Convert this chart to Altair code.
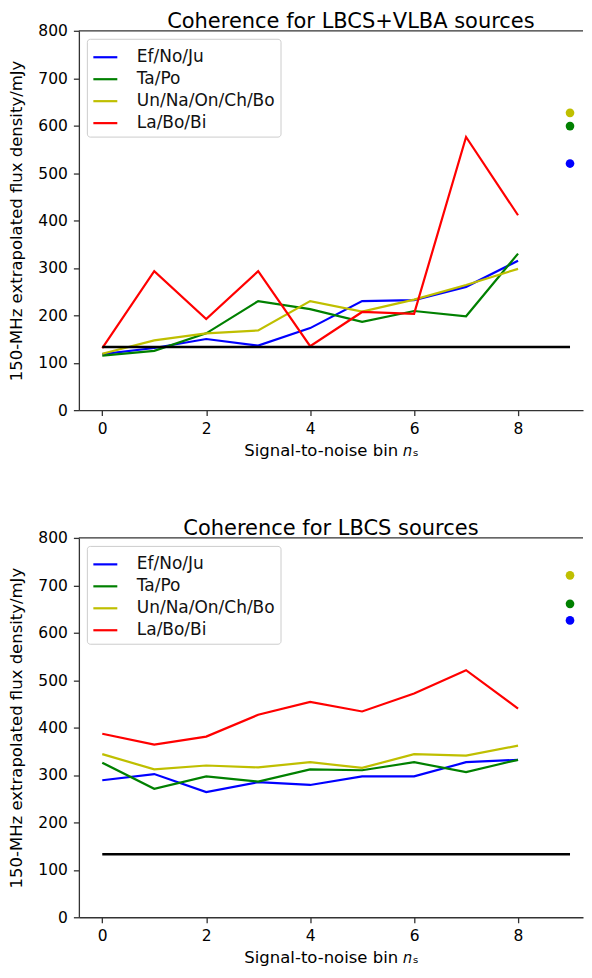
import altair as alt
import pandas as pd

bins = [0, 1, 2, 3, 4, 5, 6, 7, 8]
series = ["Ef/No/Ju", "Ta/Po", "Un/Na/On/Ch/Bo", "La/Bo/Bi"]
colors = ["#0000ff", "#008000", "#bfbf00", "#ff0000"]

# Panel 1: LBCS+VLBA
top_blue = [118, 131, 150, 136, 173, 230, 232, 260, 315]
top_green = [115, 125, 162, 230, 213, 186, 209, 198, 330]
top_yellow = [119, 147, 162, 168, 230, 208, 233, 264, 298]
top_red = [131, 293, 192, 293, 135, 207, 203, 576, 411]
top_dots = [520, 599, 627]          # blue, green, yellow at x = 9
top_thr = 133

# Panel 2: LBCS
bot_blue = [289, 302, 264, 285, 279, 297, 297, 327, 332]
bot_green = [326, 271, 297, 286, 312, 310, 327, 306, 332]
bot_yellow = [344, 312, 320, 316, 327, 315, 344, 341, 362]
bot_red = [387, 364, 381, 427, 454, 434, 472, 521, 440]
bot_dots = [626, 661, 721]
bot_thr = 133

dot_x = 9
thr_x = [0, 9]
x_ticks = [0, 2, 4, 6, 8]
y_ticks = [0, 100, 200, 300, 400, 500, 600, 700, 800]
y_max = 800

FONT = "DejaVu Sans"
Y_TITLE = "150-MHz extrapolated flux density/mJy"
W, H = 505, 380
SPINE = "#333333"


def panel(title, vals, dots, thr, title_dx):
    rows = []
    for name, v in zip(series, vals):
        for b, f in zip(bins, v):
            rows.append({"bin": b, "flux": f, "series": name})
    df = pd.DataFrame(rows)
    dots_df = pd.DataFrame({"bin": [dot_x] * 3, "flux": dots, "series": series[:3]})
    thr_df = pd.DataFrame({"x0": [thr_x[0]], "x1": [thr_x[1]], "flux": [thr]})

    xs = alt.Scale(domain=[-0.45, 9.25], nice=False, zero=False)
    ys = alt.Scale(domain=[0, y_max], nice=False, zero=True)
    cscale = alt.Scale(domain=series, range=colors)
    yaxis = alt.Axis(values=y_ticks, title=Y_TITLE)

    lines = alt.Chart(df).mark_line(strokeWidth=2.2).encode(
        x=alt.X("bin:Q", scale=xs,
                axis=alt.Axis(values=x_ticks, title="Signal-to-noise bin 𝑛ₛ",
                              format="d")),
        y=alt.Y("flux:Q", scale=ys, axis=yaxis),
        color=alt.Color("series:N", scale=cscale, title=None,
                        legend=alt.Legend(orient="top-left", offset=8,
                                          symbolType="stroke", symbolSize=576,
                                          symbolStrokeWidth=2.2,
                                          labelFontSize=17, labelFont=FONT,
                                          labelColor="#111111", labelOffset=18,
                                          rowPadding=0, padding=5,
                                          strokeColor="#cccccc", fillColor="white",
                                          cornerRadius=3)),
    )
    rule = alt.Chart(thr_df).mark_rule(color="black", strokeWidth=2.6).encode(
        x=alt.X("x0:Q", scale=xs),
        x2="x1:Q",
        y=alt.Y("flux:Q", scale=ys, axis=yaxis),
    )
    # top spine of the frame (right side is cropped in the original figure)
    spine = alt.Chart(pd.DataFrame({"flux": [y_max]})).mark_rule(
        color=SPINE, strokeWidth=1.3
    ).encode(
        x=alt.value(0), x2=alt.value(W),
        y=alt.Y("flux:Q", scale=ys, axis=yaxis),
    )
    points = alt.Chart(dots_df).mark_point(filled=True, size=75, opacity=1).encode(
        x=alt.X("bin:Q", scale=xs),
        y=alt.Y("flux:Q", scale=ys, axis=yaxis),
        color=alt.Color("series:N", scale=cscale, legend=None),
    )
    return alt.layer(lines, rule, spine, points).properties(
        width=W, height=H,
        title=alt.TitleParams(title, fontSize=21, font=FONT, fontWeight="normal",
                              color="black", offset=-8, dx=title_dx, anchor="middle"),
    )


top = panel("Coherence for LBCS+VLBA sources",
            [top_blue, top_green, top_yellow, top_red], top_dots, top_thr, 20)
bot = panel("Coherence for LBCS sources",
            [bot_blue, bot_green, bot_yellow, bot_red], bot_dots, bot_thr, 0)

chart = alt.vconcat(top, bot, spacing=59).resolve_scale(
    color="independent"
).properties(padding={"top": 2, "left": 0, "right": 0, "bottom": 0}).configure_view(
    stroke=None
).configure_axis(
    labelFont=FONT, titleFont=FONT, labelFontSize=15.5, titleFontSize=16.5,
    labelColor="black", titleColor="black", titleFontWeight="normal",
    domainColor=SPINE, tickColor=SPINE, domainWidth=1.3, tickWidth=1.3,
    tickSize=5.5, grid=False, labelPadding=5, titlePadding=3,
).configure_axisX(labelPadding=6, titlePadding=5).configure_axisY(
    titlePadding=13, labelPadding=6
)

chart.save("out.html", embed_options={"renderer": "svg", "actions": False})
